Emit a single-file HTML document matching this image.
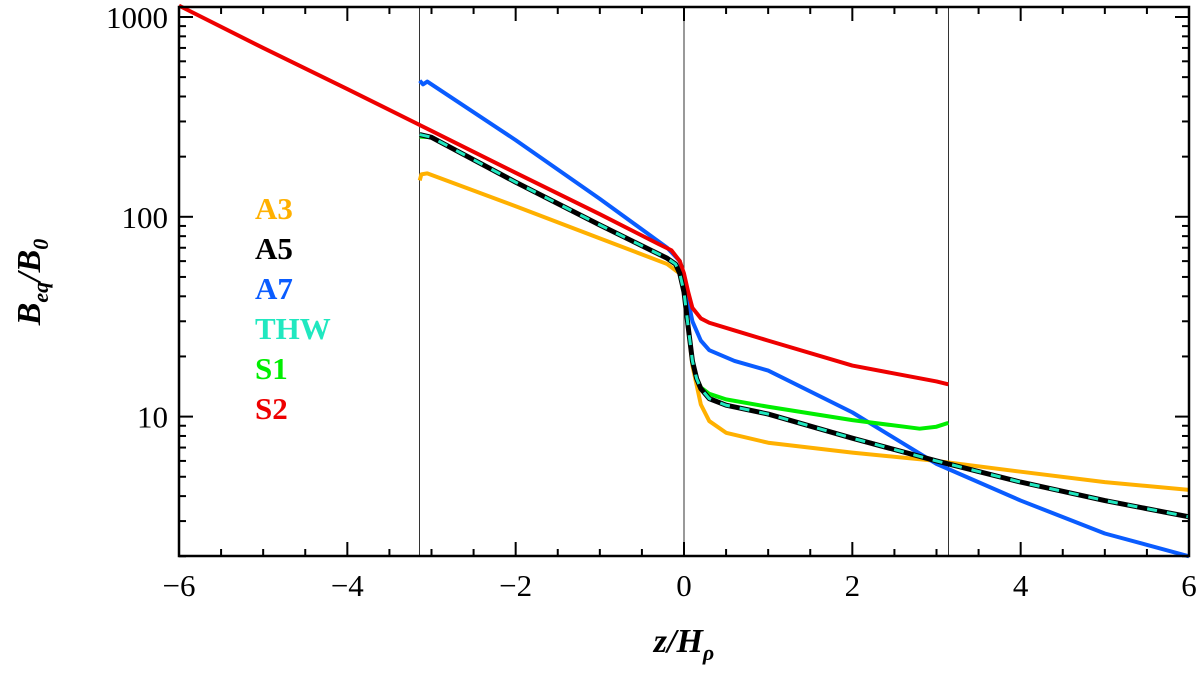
<!DOCTYPE html>
<html><head><meta charset="utf-8"><style>
body{margin:0;background:#fff}
svg text{font-family:"Liberation Serif",serif;}
</style></head><body>
<svg id="chart" width="1200" height="679" xmlns="http://www.w3.org/2000/svg"></svg>
<script>
const xTicks=[-6,-4,-2,0,2,4,6];
const xTickLabels=["\u22126","\u22124","\u22122","0","2","4","6"];
const yTicks=[10,100,1000];
const yTickLabels=["10","100","1000"];
const vLines=[-3.14159,0,3.14159];
const zA3=[-3.14,-3.12,-3.05,-2,-1,-0.2,-0.05,0,0.05,0.1,0.2,0.3,0.5,1,2,3,4,5,6];
const vA3=[152,163,165,113,78,58,52,42,28,18,11.5,9.5,8.3,7.4,6.6,6.0,5.3,4.7,4.3];
const zA5=[-3.14,-3,-2,-1,-0.2,-0.1,-0.05,0,0.05,0.1,0.15,0.2,0.3,0.5,1,2,3,4,5,6];
const vA5=[258,250,149,91,62,58,52,42,28,19,15.5,13.8,12.3,11.4,10.3,7.8,6.0,4.7,3.8,3.15];
const zA7=[-3.14,-3.1,-3.05,-2,-1,-0.2,-0.05,0,0.05,0.1,0.2,0.3,0.6,1,2,3,4,5,6];
const vA7=[480,460,475,242,123,70,60,50,38,30,24,21.5,19,17,10.5,5.8,3.8,2.6,2.0];
const zS1=[-3.14,-3,-2,-1,-0.2,-0.1,-0.05,0,0.05,0.1,0.15,0.2,0.3,0.5,1,2,2.8,3.0,3.14];
const vS1=[252,250,149,91,62,58,52,42,28,19,15.5,14,13,12.2,11.2,9.6,8.7,8.9,9.3];
const zS2=[-6,-5,-4,-3.14,-2,-1,-0.3,-0.15,-0.05,0,0.05,0.1,0.2,0.3,0.6,1,2,3,3.14];
const vS2=[1140,700,436,288,166,103,73,68,60,52,42,35,31,29.5,27,24,18,15,14.5];
const L=179,R=1189,T=7,B=556;
const ymin=Math.log10(2.006),ymax=Math.log10(1122);
const xs=z=>L+(z+6)/12*(R-L);
const ys=v=>B-(Math.log10(v)-ymin)/(ymax-ymin)*(B-T);
const svg=document.getElementById('chart');
const NS="http://www.w3.org/2000/svg";
function mk(t,a){const e=document.createElementNS(NS,t);for(const k in a)e.setAttribute(k,a[k]);svg.appendChild(e);return e;}
for(const z of vLines){
 const l=mk('line',{x1:xs(z),x2:xs(z),y1:T,y2:B,stroke:'#000','stroke-width':0.8});
 
 
}
function series(zz,vv,color,name,w,dash){
 const p=mk('polyline',{points:zz.map((z,i)=>xs(z)+','+ys(vv[i])).join(' '),fill:'none',stroke:color,'stroke-width':w,'stroke-linejoin':'round'});
 if(dash)p.setAttribute('stroke-dasharray',dash);
 
 
}
series(zA3,vA3,'#ffb000','series-a3',4);
series(zA7,vA7,'#0a5cff','series-a7',4);
series(zS1,vS1,'#00ee00','series-s1',4);
series(zS2,vS2,'#ee0000','series-s2',4);
series(zA5,vA5,'#000','series-a5',5);
series(zA5,vA5,'#20e8c0','series-thw',3,'10 10');
const fr=mk('rect',{x:L,y:T,width:R-L,height:B-T,fill:'none',stroke:'#000','stroke-width':2.5});


for(let z=-6;z<=6.001;z+=0.5){
 const major=Math.abs(z-Math.round(z/2)*2)<1e-6, len=major?14:7;
 mk('line',{x1:xs(z),x2:xs(z),y1:B,y2:B-len,stroke:'#000','stroke-width':2});
 mk('line',{x1:xs(z),x2:xs(z),y1:T,y2:T+len,stroke:'#000','stroke-width':2});
}
xTicks.forEach((z,i)=>{
 const t=mk('text',{x:xs(z),y:596,'text-anchor':'middle','font-size':31,'font-family':'Liberation Sans, sans-serif'});
 t.textContent=xTickLabels[i];
 
 
});
for(let d=0;d<=3;d++)for(let m=1;m<=9;m++){
 const v=m*Math.pow(10,d); if(v<2||v>1122)continue;
 const len=m==1?14:7;
 mk('line',{x1:L,x2:L+len,y1:ys(v),y2:ys(v),stroke:'#000','stroke-width':2});
 mk('line',{x1:R,x2:R-len,y1:ys(v),y2:ys(v),stroke:'#000','stroke-width':2});
}
yTicks.forEach((v,i)=>{
 const t=mk('text',{x:168,y:ys(v)+11,'text-anchor':'end','font-size':31,'font-family':'Liberation Sans, sans-serif'});
 t.textContent=yTickLabels[i];
 
 
});
const legNames=['A3','A5','A7','THW','S1','S2'];
const legColors=['#ffb000','#000','#0a5cff','#20e8c0','#00ee00','#ee0000'];
legNames.forEach((n,i)=>{
 const t=mk('text',{x:255,y:219+i*40,'font-size':31,fill:legColors[i],'font-family':'Liberation Mono, monospace','font-weight':'bold'});
 t.textContent=n;
 
 
});
const xt=mk('text',{x:684,y:652,'text-anchor':'middle','font-size':34,'font-style':'italic','font-weight':'bold'});
xt.innerHTML='z/H<tspan font-size="22" dy="8">ρ</tspan>';


const yt=mk('text',{x:0,y:0,'text-anchor':'middle','font-size':34,'font-style':'italic','font-weight':'bold',transform:'translate(40,282) rotate(-90)'});
yt.innerHTML='B<tspan font-size="22" dy="8">eq</tspan><tspan dy="-8">/B</tspan><tspan font-size="22" dy="8">0</tspan>';


</script>
</body></html>
